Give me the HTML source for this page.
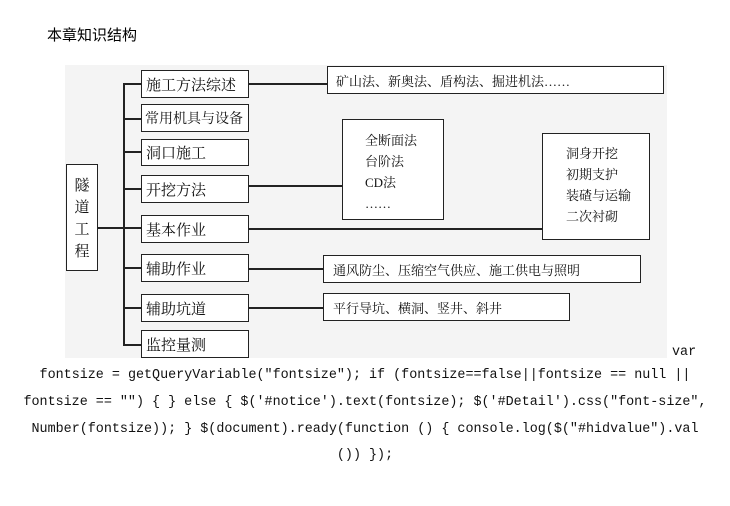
<!DOCTYPE html>
<html><head><meta charset="utf-8"><style>
body{margin:0;width:730px;height:506px;background:#fff;position:relative;overflow:hidden;font-family:"Liberation Serif","Noto Serif CJK SC",serif;}
.a{position:absolute}
.b{position:absolute;border:1.5px solid #222;background:#fff;box-sizing:border-box;font-size:14px;color:#111;}
.m{padding-left:4px;white-space:nowrap;display:flex;align-items:center;font-size:15px}
.h{position:absolute;height:1.5px;background:#222}
.v{position:absolute;width:1.5px;background:#222}
.code{position:absolute;left:0;width:730px;text-align:center;font-family:"Liberation Mono",monospace;font-size:13.4px;color:#111;white-space:pre}
</style></head><body>
<div class="a" style="left:47px;top:24px;font-family:'Liberation Sans','Noto Sans CJK SC',sans-serif;font-size:15px;">本章知识结构</div>
<div class="a" style="left:65px;top:65px;width:602px;height:293px;background:#f4f4f4"></div>
<div class="v" style="left:123px;top:83px;height:262px"></div>
<div class="h" style="left:97px;top:227px;width:45px"></div>
<div class="h" style="left:123px;top:83px;width:18px"></div>
<div class="h" style="left:123px;top:118px;width:18px"></div>
<div class="h" style="left:123px;top:151px;width:18px"></div>
<div class="h" style="left:123px;top:188px;width:18px"></div>
<div class="h" style="left:123px;top:267px;width:18px"></div>
<div class="h" style="left:123px;top:307px;width:18px"></div>
<div class="h" style="left:123px;top:344px;width:18px"></div>
<div class="h" style="left:248px;top:83px;width:80px"></div>
<div class="v" style="left:327px;top:74px;height:10px"></div>
<div class="h" style="left:248px;top:185px;width:95px"></div>
<div class="h" style="left:248px;top:228px;width:295px"></div>
<div class="h" style="left:248px;top:268px;width:76px"></div>
<div class="h" style="left:248px;top:307px;width:76px"></div>
<div class="b" style="left:66px;top:164px;width:32px;height:107px;font-size:15px;line-height:22px;text-align:center;padding-top:10px">隧<br>道<br>工<br>程</div>
<div class="b m" style="left:141px;top:70px;width:108px;height:28px">施工方法综述</div>
<div class="b m" style="left:141px;top:104px;width:108px;height:28px;font-size:14px;padding-left:3px">常用机具与设备</div>
<div class="b m" style="left:141px;top:139px;width:108px;height:27px">洞口施工</div>
<div class="b m" style="left:141px;top:175px;width:108px;height:28px">开挖方法</div>
<div class="b m" style="left:141px;top:215px;width:108px;height:28px">基本作业</div>
<div class="b m" style="left:141px;top:254px;width:108px;height:28px">辅助作业</div>
<div class="b m" style="left:141px;top:294px;width:108px;height:28px">辅助坑道</div>
<div class="b m" style="left:141px;top:330px;width:108px;height:28px">监控量测</div>
<div class="b m" style="left:327px;top:66px;width:337px;height:28px;padding-left:8px;font-size:13px">矿山法、新奥法、盾构法、掘进机法……</div>
<div class="b" style="left:342px;top:119px;width:102px;height:101px;padding:10px 0 0 22px;line-height:21px;font-size:13px">全断面法<br>台阶法<br>CD法<br>……</div>
<div class="b" style="left:542px;top:133px;width:108px;height:107px;padding:9px 0 0 23px;line-height:21px;font-size:13px">洞身开挖<br>初期支护<br>装碴与运输<br>二次衬砌</div>
<div class="b m" style="left:323px;top:255px;width:318px;height:28px;padding-left:9px;font-size:13px">通风防尘、压缩空气供应、施工供电与照明</div>
<div class="b m" style="left:323px;top:293px;width:247px;height:28px;padding-left:9px;font-size:13px">平行导坑、横洞、竖井、斜井</div>
<div class="code" style="top:345px;left:672px;width:auto;text-align:left">var</div>
<div class="code" style="top:368px">fontsize = getQueryVariable("fontsize"); if (fontsize==false||fontsize == null ||</div>
<div class="code" style="top:395px">fontsize == "") { } else { $('#notice').text(fontsize); $('#Detail').css("font-size",</div>
<div class="code" style="top:422px">Number(fontsize)); } $(document).ready(function () { console.log($("#hidvalue").val</div>
<div class="code" style="top:448px">()) });</div>
</body></html>
